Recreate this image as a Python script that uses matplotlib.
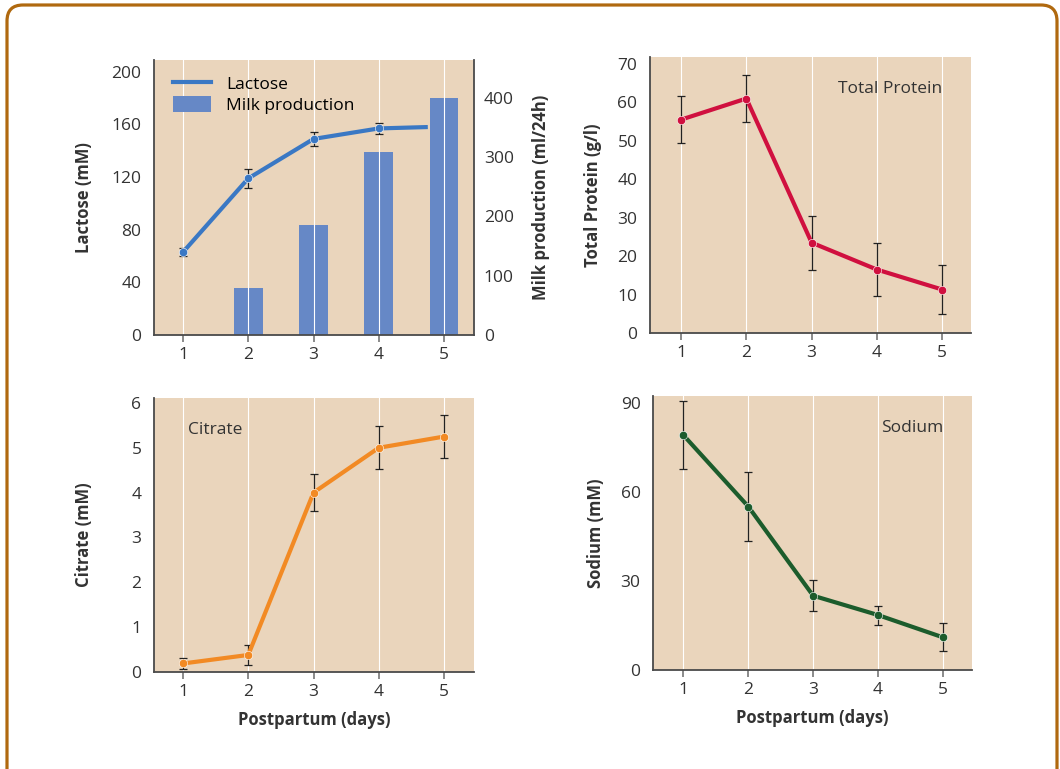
import matplotlib
matplotlib.use("Agg")
import matplotlib.pyplot as plt
from matplotlib.patches import FancyBboxPatch, Patch
from matplotlib.lines import Line2D

plt.rcParams["font.family"] = ["Open Sans", "DejaVu Sans"]

# data
days = [1, 2, 3, 4, 5]
lactose_days = [1, 2, 3, 4, 4.72]
lactose = [63, 119, 149, 157, 158]
lactose_err = [3, 7, 5, 4.5, 0]
milk = [0, 80, 185, 308, 400]

protein = [55.5, 61, 23.5, 16.5, 11.3]
protein_err = [6.2, 6.2, 7, 7, 6.4]

citrate = [0.19, 0.38, 4.0, 5.0, 5.25]
citrate_err = [0.13, 0.22, 0.42, 0.48, 0.48]

sodium = [79, 55, 25, 18.5, 11]
sodium_err = [11.5, 11.5, 5.3, 3.2, 4.7]

BG = "#EAD5BC"
SPINE = "#4a4a4a"
TXT = "#333333"
W, H = 1060, 769

fig = plt.figure(figsize=(W / 100, H / 100), dpi=100)
fig.patch.set_facecolor("white")

frame = FancyBboxPatch((0.07, -0.2), 10.50, 7.84,
                       boxstyle="round,pad=0,rounding_size=0.16",
                       transform=fig.dpi_scale_trans, fill=False,
                       edgecolor="#B0690F", lw=2.3)
fig.patches.append(frame)


def px_axes(l, t, r, b):
    return fig.add_axes([l / W, (H - b) / H, (r - l) / W, (b - t) / H])


def style(ax, xlim, ylim, yticks, ylabel):
    ax.set_facecolor(BG)
    ax.set_xlim(*xlim)
    ax.set_ylim(*ylim)
    ax.set_xticks(days)
    ax.set_yticks(yticks)
    for d in days:
        ax.axvline(d, color="white", lw=0.8, zorder=0.5)
    for s in ["top", "right"]:
        ax.spines[s].set_visible(False)
    for s in ["left", "bottom"]:
        ax.spines[s].set_color(SPINE)
        ax.spines[s].set_linewidth(1.3)
    ax.tick_params(axis="x", length=5, width=1.2, color="#777777",
                   labelsize=12.5, labelcolor=TXT, pad=3.5)
    ax.tick_params(axis="y", length=0, labelsize=12.5, labelcolor=TXT, pad=9)
    ax.set_ylabel(ylabel, fontsize=12, fontweight="bold", color=TXT)


def series(ax, y, err, color):
    ax.errorbar(days, y, yerr=err, fmt="none", ecolor="#222222",
                elinewidth=0.9, capsize=3, capthick=0.9, zorder=3)
    ax.plot(days, y, color=color, lw=3, zorder=4)
    ax.plot(days, y, "o", color=color, ms=6, zorder=5,
            markeredgecolor="white", markeredgewidth=0.4)


# --- Lactose / milk production
ax1 = px_axes(154, 60, 474, 335)
style(ax1, (0.555, 5.46), (0, 209), [0, 40, 80, 120, 160, 200], "Lactose (mM)")
ax1.yaxis.set_label_coords(-0.19, 0.5)
ax2 = ax1.twinx()
ax2.set_ylim(0, 464)
ax2.set_yticks([0, 100, 200, 300, 400])
ax2.tick_params(axis="y", length=0, labelsize=12.5, labelcolor=TXT, pad=7)
for s in ["top", "left", "bottom"]:
    ax2.spines[s].set_visible(False)
ax2.spines["right"].set_color(SPINE)
ax2.spines["right"].set_linewidth(1.3)
ax2.set_ylabel("Milk production (ml/24h)", fontsize=12, fontweight="bold",
               color=TXT)
ax2.yaxis.set_label_coords(1.18, 0.5)
ax2.bar(days, milk, width=0.44, color="#6688C6", zorder=1)
ax2.set_zorder(ax1.get_zorder() - 1)
ax2.patch.set_visible(True)
ax2.patch.set_facecolor(BG)
ax1.set_facecolor("none")
ax1.errorbar(days[:4], lactose[:4], yerr=lactose_err[:4], fmt="none",
             ecolor="#222222", elinewidth=0.9, capsize=3, capthick=0.9, zorder=3)
ax1.plot(lactose_days, lactose, color="#3A78C4", lw=3, zorder=4)
ax1.plot(days[:4], lactose[:4], "o", color="#3A78C4", ms=6, zorder=5,
         markeredgecolor="white", markeredgewidth=0.4)
handles = [Line2D([0], [0], color="#3A78C4", lw=3),
           Patch(facecolor="#6688C6")]
ax1.legend(handles, ["Lactose", "Milk production"], loc="upper left",
           frameon=False, fontsize=12.5, handlelength=2.2, handleheight=1.1,
           handletextpad=0.9, borderaxespad=0.3, labelspacing=0.15,
           bbox_to_anchor=(0.02, 0.99))

# --- Total protein
ax3 = px_axes(650, 57, 971, 333)
style(ax3, (0.525, 5.44), (0, 71.8), range(0, 71, 10), "Total Protein (g/l)")
ax3.yaxis.set_label_coords(-0.15, 0.5)
series(ax3, protein, protein_err, "#D0103F")
ax3.text(0.91, 0.885, "Total Protein", transform=ax3.transAxes, fontsize=12.5,
         color=TXT, ha="right", va="center")

# --- Citrate
ax4 = px_axes(154, 398, 474, 672)
style(ax4, (0.555, 5.46), (0, 6.11), range(0, 7), "Citrate (mM)")
ax4.yaxis.set_label_coords(-0.19, 0.5)
series(ax4, citrate, citrate_err, "#F28A24")
ax4.text(0.105, 0.885, "Citrate", transform=ax4.transAxes, fontsize=12.5,
         color=TXT, ha="left", va="center")
ax4.set_xlabel("Postpartum (days)", fontsize=12, fontweight="bold",
               color=TXT, labelpad=8)

# --- Sodium
ax5 = px_axes(653, 396, 972, 670)
style(ax5, (0.53, 5.45), (0, 92.2), [0, 30, 60, 90], "Sodium (mM)")
ax5.yaxis.set_label_coords(-0.15, 0.5)
series(ax5, sodium, sodium_err, "#1C5C2C")
ax5.text(0.91, 0.885, "Sodium", transform=ax5.transAxes, fontsize=12.5,
         color=TXT, ha="right", va="center")
ax5.set_xlabel("Postpartum (days)", fontsize=12, fontweight="bold",
               color=TXT, labelpad=8)

fig.savefig("out.png", dpi=100)
